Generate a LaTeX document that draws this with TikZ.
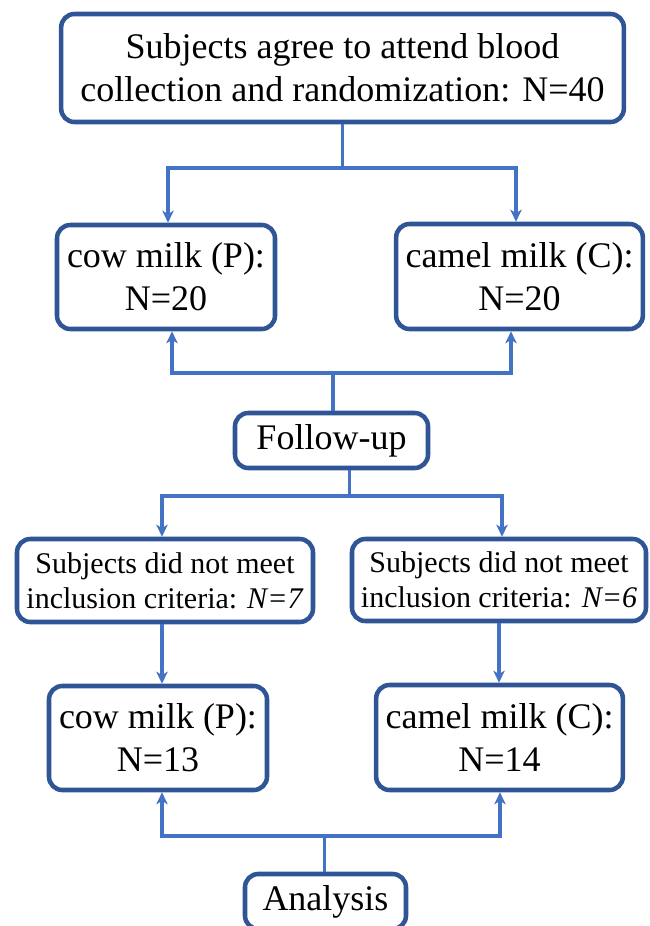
\documentclass[tikz,border=0pt]{standalone}
\usepackage{fontspec}
\setmainfont{Liberation Serif}
\usetikzlibrary{arrows.meta,calc}
\definecolor{boxblue}{HTML}{2F5597}
\definecolor{lineblue}{HTML}{4472C4}
\newcommand\BigFnt{\fontsize{27}{32}\selectfont}
\newcommand\SmallFnt{\fontsize{22.5}{26.5}\selectfont}
\tikzset{
  fbox/.style={draw=boxblue, line width=3.4pt, rounded corners=10pt, fill=white,
    align=center, inner sep=0pt, font=\BigFnt},
  sbox/.style={fbox, font=\SmallFnt},
  conn/.style={draw=lineblue, line width=2.7pt},
  arr/.style={conn, -{Stealth[length=9pt,width=8.5pt,inset=2.5pt]}}
}
\begin{document}
\begin{tikzpicture}[x=0.75pt,y=-0.75pt]
\useasboundingbox (0,0) rectangle (650,926);
\clip (0,0) rectangle (650,926);
\fill[white] (0,0) rectangle (650,926);

\node[fbox, minimum width=422pt, minimum height=81pt] (top) at (342.5,68)
  {Subjects agree to attend blood\\collection and randomization: N=40};
\node[fbox, minimum width=163.5pt, minimum height=78pt] (cow1) at (166,277)
  {cow milk (P):\\N=20};
\node[fbox, minimum width=185pt, minimum height=78.75pt] (camel1) at (519.5,276.5)
  {camel milk (C):\\N=20};
\node[fbox, minimum width=144.75pt, minimum height=41.25pt] (follow) at (331.5,440.5)
  {Follow-up};
\node[sbox, minimum width=222pt, minimum height=62.25pt] (subjL) at (165,580.5)
  {Subjects did not meet\\inclusion criteria: \textit{N=7}};
\node[sbox, minimum width=220.5pt, minimum height=61.5pt] (subjR) at (499,580)
  {Subjects did not meet\\inclusion criteria: \textit{N=6}};
\node[fbox, minimum width=163.5pt, minimum height=78pt] (cow2) at (158,738)
  {cow milk (P):\\N=13};
\node[fbox, minimum width=185pt, minimum height=78.75pt] (camel2) at (499.5,737.5)
  {camel milk (C):\\N=14};
\node[fbox, minimum width=120.75pt, minimum height=41.25pt] (ana) at (325.5,901.5)
  {Analysis};

% top -> groups
\draw[conn] (top.south) -- ++(0,44) coordinate (j1);
\draw[arr] (j1) -| ($(cow1.north)+(2,0)$);
\draw[arr] (j1) -| ($(camel1.north)+(-3.5,0)$);

% follow-up -> groups (up)
\draw[arr] ($(follow.north)+(1.5,0)$) -- ++(0,-38) -| ($(cow1.south)+(6,0)$);
\draw[arr] ($(follow.north)+(1.5,0)$) -- ++(0,-38) -| ($(camel1.south)+(-8.5,0)$);

% follow-up -> excluded
\draw[arr] ($(follow.south)+(18,0)$) -- ++(0,26) -| ($(subjL.north)+(-3,0)$);
\draw[arr] ($(follow.south)+(18,0)$) -- ++(0,26) -| ($(subjR.north)+(3,0)$);

% excluded -> final groups
\draw[arr] ($(subjL.south)+(-3,0)$) -- ($(cow2.north)+(4,0)$);
\draw[arr] (subjR.south) -- (subjR.south |- camel2.north);

% analysis -> final groups (up)
\draw[arr] ($(ana.north)+(-1,0)$) -- ++(0,-36) -| ($(cow2.south)+(4,0)$);
\draw[arr] ($(ana.north)+(-1,0)$) -- ++(0,-36) -| ($(camel2.south)+(0.5,0)$);
\end{tikzpicture}
\end{document}
